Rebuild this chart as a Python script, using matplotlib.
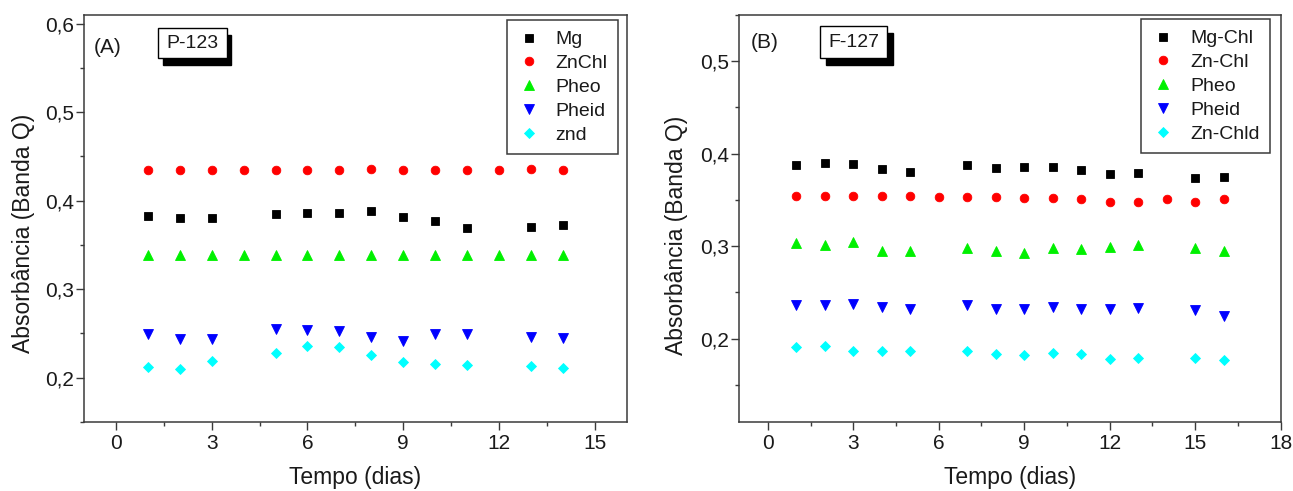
import numpy as np
import matplotlib
matplotlib.use("Agg")
import matplotlib.pyplot as plt
from matplotlib.patches import Rectangle
from matplotlib.ticker import FuncFormatter, MultipleLocator

plt.rcParams['font.family'] = ['Liberation Sans', 'DejaVu Sans']

nan = np.nan

# ---- Panel A: P-123 ----
days_a = [1, 2, 3, 4, 5, 6, 7, 8, 9, 10, 11, 12, 13, 14]
mg_a = [0.383, 0.380, 0.380, nan, 0.385, 0.386, 0.3865, 0.388, 0.381, 0.377, 0.369, nan, 0.370, 0.372]
znchl_a = [0.435, 0.435, 0.435, 0.435, 0.435, 0.435, 0.435, 0.436, 0.435, 0.435, 0.435, 0.435, 0.436, 0.435]
pheo_a = [0.339, 0.339, 0.339, 0.339, 0.339, 0.339, 0.339, 0.339, 0.339, 0.339, 0.339, 0.339, 0.339, 0.339]
pheid_a = [0.2487, 0.2438, 0.244, nan, 0.2544, 0.2533, 0.2525, 0.2453, 0.2412, 0.2495, 0.2495, nan, 0.246, 0.2446]
znd_a = [0.2118, 0.210, 0.2182, nan, 0.2276, 0.2355, 0.234, 0.225, 0.218, 0.215, 0.2137, nan, 0.2126, 0.211]
labels_a = ["Mg", "ZnChl", "Pheo", "Pheid", "znd"]

# ---- Panel B: F-127 ----
days_b = [1, 2, 3, 4, 5, 6, 7, 8, 9, 10, 11, 12, 13, 14, 15, 16]
mg_b = [0.3875, 0.3897, 0.389, 0.3839, 0.380, nan, 0.3882, 0.385, 0.3853, 0.3853, 0.3824, 0.3785, 0.3792, nan, 0.3741, 0.3752]
znchl_b = [0.3543, 0.3543, 0.354, 0.354, 0.354, 0.3536, 0.3532, 0.3529, 0.3525, 0.3521, 0.3514, 0.3475, 0.3475, 0.3514, 0.3475, 0.3514]
pheo_b = [0.3035, 0.3013, 0.3042, 0.2952, 0.2952, nan, 0.298, 0.2952, 0.293, 0.298, 0.297, 0.2988, 0.3017, nan, 0.298, 0.2952]
pheid_b = [0.236, 0.2367, 0.2371, 0.2342, 0.2324, nan, 0.236, 0.232, 0.232, 0.2342, 0.232, 0.232, 0.2331, nan, 0.2313, 0.2241]
znchld_b = [0.191, 0.1924, 0.187, 0.187, 0.187, nan, 0.1863, 0.183, 0.182, 0.1845, 0.1837, 0.178, 0.179, nan, 0.1787, 0.1769]
labels_b = ["Mg-Chl", "Zn-Chl", "Pheo", "Pheid", "Zn-Chld"]

colors = ["#000000", "#ff0000", "#00f000", "#0000ff", "#00ffff"]
markers = ["s", "o", "^", "v", "D"]
msizes = [6.0, 6.2, 7.3, 7.3, 5.2]

TXT = "#1a1a1a"
SPINE = "#3a3a3a"

fig = plt.figure(figsize=(12.93, 4.91), dpi=100)
axA = fig.add_axes([0.0650, 0.1411, 0.4197, 0.8283])
axB = fig.add_axes([0.5718, 0.1411, 0.4186, 0.8283])

comma = FuncFormatter(lambda v, p: f"{v:.1f}".replace(".", ","))


def style_axes(ax, xmax, ylim, ylab_x, ylab_y):
    ax.set_xlim(-1, xmax)
    ax.set_ylim(*ylim)
    ax.xaxis.set_major_locator(MultipleLocator(3))
    ax.xaxis.set_minor_locator(MultipleLocator(1.5))
    ax.yaxis.set_major_locator(MultipleLocator(0.1))
    ax.yaxis.set_minor_locator(MultipleLocator(0.05))
    ax.yaxis.set_major_formatter(comma)
    for s in ax.spines.values():
        s.set_linewidth(1.1)
        s.set_color(SPINE)
    ax.tick_params(which="both", direction="out", top=False, right=False,
                   colors=SPINE, labelcolor=TXT, width=1.0, labelsize=15)
    ax.tick_params(which="major", length=5.5)
    ax.tick_params(which="minor", length=3)
    ax.tick_params(axis="y", which="major", pad=2)
    ax.tick_params(axis="x", which="major", pad=3)
    ax.set_xlabel("Tempo (dias)", fontsize=16.5, color=TXT, va="center")
    ax.xaxis.set_label_coords(0.5, -0.138)
    ax.set_ylabel("Absorbância (Banda Q)", fontsize=16.5, color=TXT, va="center")
    ax.yaxis.set_label_coords(ylab_x, ylab_y)


def plot_series(ax, days, series, labels):
    for vals, lab, c, m, ms in zip(series, labels, colors, markers, msizes):
        ax.plot(days, vals, linestyle="none", marker=m, markersize=ms,
                color=c, markeredgecolor=c, markeredgewidth=0.6, label=lab)


def tag_box(ax, x0, y0, w, h, dx, dy, text):
    ax.add_patch(Rectangle((x0 + dx, y0 + dy), w, h, transform=ax.transAxes,
                           facecolor="black", edgecolor="black", lw=1.0,
                           zorder=4, clip_on=False))
    ax.add_patch(Rectangle((x0, y0), w, h, transform=ax.transAxes,
                           facecolor="white", edgecolor="black", lw=1.0,
                           zorder=5, clip_on=False))
    ax.text(x0 + w / 2, y0 + h / 2, text, transform=ax.transAxes,
            ha="center", va="center", fontsize=14, color=TXT, zorder=6)


def add_legend(ax, anchor):
    leg = ax.legend(loc="upper right", bbox_to_anchor=anchor, borderaxespad=0,
                    frameon=True, fancybox=False, fontsize=14, numpoints=1,
                    handlelength=1.15, handletextpad=0.8, labelspacing=0.32,
                    borderpad=0.55, framealpha=1)
    leg.get_frame().set_edgecolor(SPINE)
    leg.get_frame().set_linewidth(1.1)
    for t in leg.get_texts():
        t.set_color(TXT)


# Panel A
plot_series(axA, days_a, [mg_a, znchl_a, pheo_a, pheid_a, znd_a], labels_a)
style_axes(axA, 16, (0.15, 0.61), -0.112, 0.464)
add_legend(axA, (0.9845, 0.9877))
axA.text(0.0433, 0.919, "(A)", transform=axA.transAxes, ha="center",
         va="center", fontsize=15, color=TXT)
tag_box(axA, 0.1369, 0.8935, 0.1260, 0.0738, 0.0083, -0.0165, "P-123")

# Panel B
plot_series(axB, days_b, [mg_b, znchl_b, pheo_b, pheid_b, znchld_b], labels_b)
style_axes(axB, 18, (0.11, 0.55), -0.116, 0.459)
add_legend(axB, (0.9806, 0.990))
axB.text(0.0466, 0.932, "(B)", transform=axB.transAxes, ha="center",
         va="center", fontsize=15, color=TXT)
tag_box(axB, 0.1491, 0.8943, 0.1238, 0.0787, 0.0111, -0.0172, "F-127")

fig.savefig("out.png", dpi=100, facecolor="white")
